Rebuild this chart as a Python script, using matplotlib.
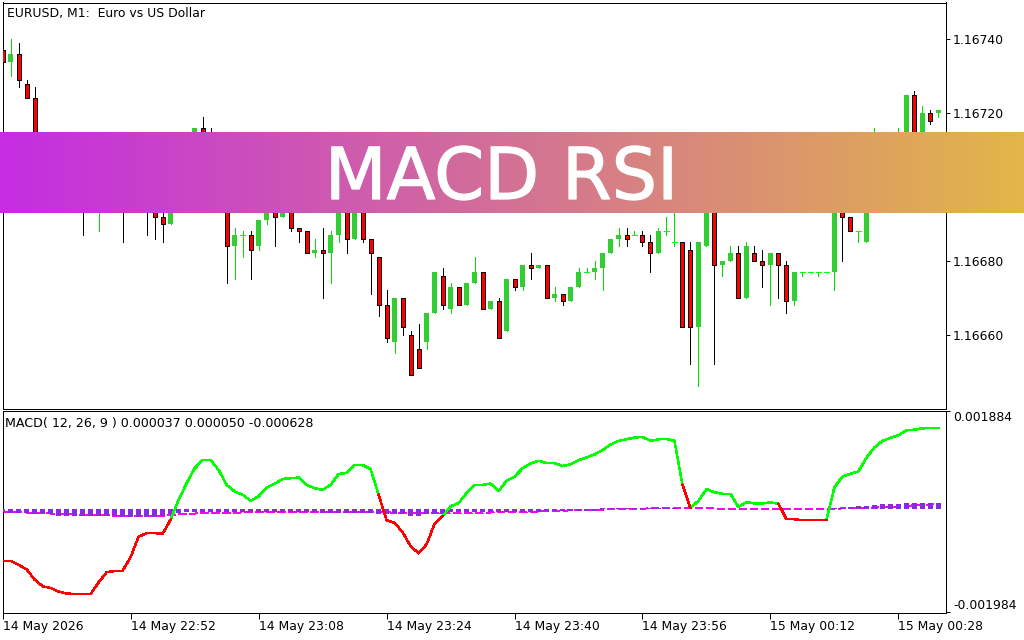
#%%
import numpy as np
import matplotlib
matplotlib.use("Agg")
import matplotlib.pyplot as plt
import matplotlib.patheffects as pe
from matplotlib.colors import LinearSegmentedColormap

#%%
### Candles, in points above 1.16680 (bars hidden by the banner are estimates) ###
PRICE_BASE = 1.16680
POINT = 0.00001

opens = [57, 54, 56, 48, 44, 30, 26, 24, 27, 24, 22, 20, 22, 24, 20, 22, 18, 20, 17, 15,
         12, 10, 18, 24, 30, 36, 26, 22, 16, 4, 7, 7, 4, 11, 16, 12, 18, 9, 8, 2,
         3, 2, 7, 16, 6, 16, 6, 1, -12, -22, -10, -20, -24, -22, -14, -4, -13, -7, -12, -6,
         -3, -13, -11, -19, -5, -7, -1, -2, -1, -10, -9, -11, -7, -3, -3, -2, 2, 6, 7, 7,
         7, 5, 2, 8, 5, 5, 3, -18, 4, 20, -1, 0, 2, -10, 2, 0, -1, 2, -1, -11,
         -3, -3, -3, -3, -3, 24, 12, 8, 5, 18, 28, 30, 26, 32, 45, 30, 40, 40]
closes = [54, 56, 49, 44, 30, 26, 24, 27, 24, 22, 20, 22, 24, 20, 22, 18, 20, 17, 15, 12,
          10, 18, 24, 30, 36, 26, 22, 16, 4, 7, 7, 3, 11, 16, 12, 18, 9, 8, 2, 3,
          2, 7, 16, 6, 16, 6, 2, -12, -21, -10, -18, -31, -29, -14, -3, -12, -7, -12, -6, -3,
          -13, -11, -21, -5, -7, -1, -2, -1, -10, -9, -11, -7, -3, -3, -2, 2, 6, 7, 6, 7,
          5, 2, 8, 8, 5, -18, -18, 5, 20, -1, 0, 2, -10, 4, 0, -1, 2, -1, -11, -3,
          -3, -3, -3, -3, 24, 12, 8, 8, 18, 28, 30, 26, 32, 45, 30, 40, 38, 41]
highs = [57, 60, 59, 49, 47, 31, 27, 28, 28, 25, 24, 23, 25, 25, 23, 24, 22, 22, 18, 17,
         16, 19, 25, 31, 36, 39, 36, 24, 18, 9, 8, 8, 11, 18, 18, 20, 20, 9, 8, 6,
         9, 8, 18, 18, 17, 18, 6, 1, -8, -10, -10, -19, -17, -14, -3, -2, -6, -7, -6, 1,
         -3, -11, -10, -5, -5, -1, 2, -1, -1, -7, -9, -7, -2, -2, 0, 2, 6, 9, 9, 8,
         8, 7, 9, 12, 18, 5, 5, 5, 22, 22, 0, 4, 4, 5, 4, 3, 2, 2, 0, -3,
         -3, -3, -3, -3, 25, 26, 12, 8, 20, 36, 35, 35, 36, 45, 46, 42, 41, 41]
lows = [54, 50, 47, 44, 28, 24, 22, 23, 22, 20, 7, 16, 8, 18, 18, 5, 16, 15, 7, 6,
        5, 10, 17, 23, 29, 24, 20, 14, -6, -5, 1, -5, 3, 10, 4, 12, 8, 5, 2, 1,
        -10, -6, 5, 2, 6, 5, -9, -15, -22, -25, -20, -31, -29, -24, -14, -13, -14, -12, -12, -6,
        -13, -13, -21, -19, -8, -8, -5, -2, -10, -11, -12, -11, -7, -3, -5, -8, 2, 4, 4, 7,
        4, -3, 2, 7, 4, -18, -28, -34, 4, -28, -4, 0, -10, -10, 0, -7, -12, -10, -14, -12,
        -4, -3, -4, -3, -8, 0, 8, 5, 5, 17, 27, 24, 25, 31, 29, 29, 37, 39]

#%%
### MACD pane, in millionths ###
macd_line = [-996, -996, -1072, -1161, -1357, -1484, -1516, -1586, -1624, -1631, -1631, -1631, -1408, -1211, -1192,
             -1186, -919, -532, -462, -462, -475, -202, 179, 497, 782, 941, 941, 751, 465, 338,
             275, 160, 243, 414, 484, 579, 592, 605, 465, 401, 370, 465, 675, 694, 846,
             846, 770, 275, -214, -265, -443, -710, -849, -678, -284, -138, 52, 116, 306, 465,
             465, 490, 344, 541, 624, 782, 878, 928, 884, 884, 827, 859, 941, 992, 1049,
             1132, 1240, 1310, 1341, 1373, 1386, 1310, 1341, 1348, 1310, 465, 20, 160, 382, 325,
             293, 293, 40, 135, 109, 109, 128, 103, -195, -195, -214, -214, -214, -214, 421,
             624, 675, 725, 986, 1183, 1310, 1367, 1417, 1513, 1525, 1551, 1557, 1557]
macd_hist = [-50, -70, -70, -70, -100, -100, -100, -125, -125, -125, -125, -125, -125, -125, -125,
             -145, -145, -145, -145, -145, -125, -100, -70, -65, -65, -65, -65, -65, -65, -65,
             -65, -65, -65, -65, -65, -65, -65, -65, -65, -65, -70, -70, -70, -70, -70,
             -70, -70, -90, -90, -90, -90, -125, -125, -100, -100, -90, -65, -65, -65, -65,
             -65, -65, -50, -50, -50, -50, -50, -50, -35, -35, -35, -35, -35, -35, -35,
             20, 20, 20, 20, 20, 30, 30, 30, 30, 30, 10, 10, 10, 10, 10,
             10, 10, 10, 10, 10, 10, 10, 10, 10, 10, 10, 10, 10, 10, 20,
             30, 35, 50, 65, 75, 90, 100, 105, 110, 115, 120, 125, 125]
macd_signal = [-55, -58, -62, -66, -70, -78, -85, -92, -98, -104, -110, -114, -118, -122, -126,
               -130, -132, -133, -133, -133, -128, -118, -104, -92, -86, -80, -76, -72, -70, -68,
               -65, -62, -60, -58, -58, -56, -56, -55, -55, -55, -55, -55, -55, -56, -56,
               -56, -58, -60, -64, -68, -72, -80, -85, -85, -85, -82, -78, -76, -74, -72,
               -70, -66, -62, -60, -58, -57, -52, -46, -40, -35, -30, -26, -22, -18, -14,
               -10, -6, -2, 2, 6, 10, 12, 14, 14, 15, 13, 12, 12, 11, 11,
               10, 10, 8, 5, 3, 2, 2, 2, 2, 2, 2, 3, 4, 6, 8,
               12, 16, 20, 24, 28, 34, 42, 52, 62, 72, 82, 90, 98]
red_runs = [(0, 21), (47, 55), (85, 86), (97, 103)]

#%%
### Axis labels ###
price_ticks = [1.16740, 1.16720, 1.16700, 1.16680, 1.16660]
macd_ticks = [0.001884, -0.001984]
date_ticks = [0, 16, 32, 48, 64, 80, 96, 112]
date_labels = ["14 May 2026", "14 May 22:52", "14 May 23:08", "14 May 23:24",
               "14 May 23:40", "14 May 23:56", "15 May 00:12", "15 May 00:28"]

GREEN_BODY = "#32CD32"
GREEN_WICK = "#00E000"
GREEN_DOJI = "#00FF00"
PX = 0.72  # one pixel in points at dpi 100
W, H = 1024, 640

plt.rcParams["font.family"] = "DejaVu Sans"
plt.rcParams["font.size"] = 8.9


def pane(fig, top, bottom, left=2.5, right=946.0):
    ax = fig.add_axes([left / W, 1 - bottom / H, (right - left) / W, (bottom - top) / H])
    for s in ax.spines.values():
        s.set_linewidth(PX)
    ax.yaxis.tick_right()
    ax.tick_params(axis="y", length=3, width=PX, pad=2)
    ax.set_xlim(-0.025, 117.95)
    return ax


fig = plt.figure(figsize=(W / 100, H / 100), dpi=100, facecolor="white")

#%%
### Price pane ###
ax = pane(fig, 2.5, 408.5)
idx = np.arange(len(opens))
o = PRICE_BASE + np.array(opens) * POINT
c = PRICE_BASE + np.array(closes) * POINT
hi = PRICE_BASE + np.array(highs) * POINT
lo = PRICE_BASE + np.array(lows) * POINT
up = c > o
down = c < o
flat = c == o

wick_colors = [GREEN_WICK if (u or f) else "black" for u, f in zip(up, flat)]
ax.vlines(idx, lo, hi, colors=wick_colors, linewidth=PX, antialiased=False, zorder=2)
ax.bar(idx[up], (c - o)[up], bottom=o[up], width=5 / 8, color=GREEN_BODY, linewidth=0, zorder=3)
ax.bar(idx[down], (o - c)[down], bottom=c[down], width=4 / 8, color="#FF0000",
       edgecolor="black", linewidth=PX, zorder=3)
ax.hlines(o[flat], idx[flat] - 2.5 / 8, idx[flat] + 2.5 / 8, colors=GREEN_DOJI,
          linewidth=PX, antialiased=False, zorder=3)

ax.set_ylim(1.16640, 1.16750)
ax.set_yticks(price_ticks, [f"{t:.5f}" for t in price_ticks])
ax.set_xticks([])
ax.text(4.5 / 944, 1 - 10.5 / 406, "EURUSD, M1:  Euro vs US Dollar", transform=ax.transAxes,
        va="center", ha="left")

#%%
### MACD pane ###
ax2 = pane(fig, 410.5, 613)
hist = np.array(macd_hist) * 1e-6
sig = np.array(macd_signal) * 1e-6
line = np.array(macd_line) * 1e-6

# signal sits under the histogram, it only shows in the gaps between bars
ax2.plot(idx, sig, color="#FF00FF", linewidth=PX, linestyle=(0, (8, 4)), antialiased=False, zorder=2)
ax2.bar(idx, hist, width=5 / 8, color="#8A2BE2", linewidth=0, antialiased=False, zorder=3)
ax2.plot(idx, line, color="#00FF00", linewidth=1.5 * PX, antialiased=False, zorder=4)
for a, b in red_runs:
    ax2.plot(idx[a:b + 1], line[a:b + 1], color="#FF0000", linewidth=1.5 * PX, antialiased=False, zorder=5)

ax2.set_ylim(-0.001997, 0.001894)
ax2.set_yticks(macd_ticks, [f"{t:.6f}" for t in macd_ticks])
ax2.get_yticklabels()[0].set_va("top")
ax2.get_yticklabels()[1].set_va("bottom")
ax2.set_xticks(date_ticks, date_labels)
for lab in ax2.get_xticklabels():
    lab.set_ha("left")
ax2.tick_params(axis="x", length=4, width=PX, pad=1)
ax2.text(2.5 / 944, 1 - 12.5 / 202.5, "MACD( 12, 26, 9 ) 0.000037 0.000050 -0.000628",
         transform=ax2.transAxes, va="center", ha="left", fontsize=9.1)

#%%
### Title banner ###
banner = fig.add_axes([0, 1 - 213 / H, 1, 81 / H], zorder=10)
cmap = LinearSegmentedColormap.from_list("banner", ["#C42DE2", "#E2B648"])
banner.imshow(np.linspace(0, 1, W).reshape(1, -1), cmap=cmap, aspect="auto")
banner.axis("off")
title = banner.text(0.4897, 0.506, "MACD RSI", transform=banner.transAxes, color="white", ha="center",
                    va="center_baseline", fontsize=51.5, family="DejaVu Sans")
title.set_path_effects([pe.withStroke(linewidth=0.9, foreground="white")])

fig.savefig("out.png", dpi=100)
